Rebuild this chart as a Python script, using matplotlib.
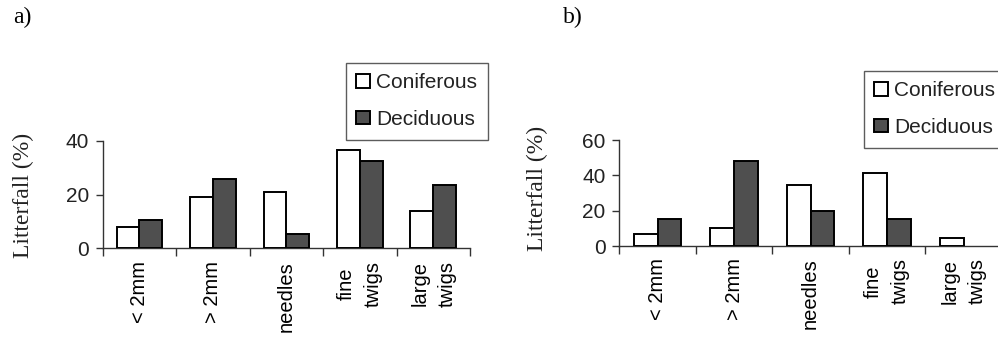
import matplotlib
matplotlib.use("Agg")
import matplotlib.pyplot as plt
import numpy as np

categories = ["< 2mm", "> 2mm", "needles", "fine\ntwigs", "large\ntwigs"]
series_names = ["Coniferous", "Deciduous"]
a_coniferous = [7.9, 19.2, 20.9, 36.5, 13.9]
a_deciduous = [10.4, 25.6, 5.3, 32.5, 23.7]
b_coniferous = [6.6, 10.4, 34.5, 41.1, 4.3]
b_deciduous = [15.1, 48.3, 19.8, 15.1, 0.0]
a_yticks = [0, 20, 40]
b_yticks = [0, 20, 40, 60]

W, H = 998, 346
fig = plt.figure(figsize=(W / 100, H / 100), dpi=100)
fig.patch.set_facecolor("white")

SANS = "Liberation Sans"
SERIF = "Liberation Serif"
DARK = "#4f4f4f"


def px_rect(x0, x1, y_top, y_bot):
    return [x0 / W, 1 - y_bot / H, (x1 - x0) / W, (y_bot - y_top) / H]


def draw(ax, conif, decid, yticks):
    n = len(categories)
    centers = np.arange(n) + 0.5
    w = 0.31
    b1 = ax.bar(centers - w / 2, conif, w, color="white", edgecolor="black",
                linewidth=1.4, label=series_names[0], zorder=3)
    b2 = ax.bar(centers + w / 2, decid, w, color=DARK, edgecolor="black",
                linewidth=1.4, label=series_names[1], zorder=3)
    for bars in (b1, b2):
        for p in bars.patches:
            if p.get_height() == 0:
                p.set_visible(False)
    ax.set_xlim(0, n)
    ax.set_ylim(0, yticks[-1])
    ax.set_yticks(yticks)
    ax.set_xticks(np.arange(n + 1))
    ax.set_xticklabels([])
    ax.set_xticks(centers, minor=True)
    ax.set_xticklabels(categories, minor=True, rotation=90, va="top",
                       ha="center", multialignment="center",
                       fontfamily=SANS, fontsize=14.5, linespacing=1.55)
    ax.tick_params(axis="x", which="minor", length=0, pad=9)
    ax.tick_params(axis="x", which="major", length=6, width=1, color="#333333")
    ax.tick_params(axis="y", length=5, width=1, color="#333333", pad=5,
                   labelsize=15)
    for lab in ax.get_yticklabels():
        lab.set_fontfamily(SANS)
        lab.set_color("#222222")
    for s in ["top", "right"]:
        ax.spines[s].set_visible(False)
    for s in ["left", "bottom"]:
        ax.spines[s].set_linewidth(1.0)
        ax.spines[s].set_color("#333333")
    ax.set_facecolor("none")
    return b1, b2


ax_a = fig.add_axes(px_rect(102.7, 470, 140.7, 248.3))
ha = draw(ax_a, a_coniferous, a_deciduous, a_yticks)
ax_b = fig.add_axes(px_rect(619.3, 1001.8, 140, 246))
hb = draw(ax_b, b_coniferous, b_deciduous, b_yticks)

leg_kw = dict(loc="upper left", borderaxespad=0, frameon=True, fancybox=False,
              edgecolor="#333333", handlelength=0.65, handleheight=0.6,
              handletextpad=0.3, labelspacing=0.85, borderpad=0.5,
              prop={"family": SANS, "size": 15})
la = fig.legend(ha, series_names, bbox_to_anchor=(346 / W, 1 - 63 / H), **leg_kw)
lb = fig.legend(hb, series_names, bbox_to_anchor=(864 / W, 1 - 71 / H), **leg_kw)
for lg in (la, lb):
    lg.get_frame().set_linewidth(1.0)
    for t in lg.get_texts():
        t.set_color("#222222")

fig.text(13 / W, 1 - 17 / H, "a)", family=SERIF, fontsize=17, ha="left", va="center")
fig.text(563 / W, 1 - 17 / H, "b)", family=SERIF, fontsize=17, ha="left", va="center")
fig.text(23 / W, 1 - 195 / H, "Litterfall (%)", family=SERIF, fontsize=17,
         rotation=90, ha="center", va="center", color="#222222")
fig.text(537 / W, 1 - 188 / H, "Litterfall (%)", family=SERIF, fontsize=17,
         rotation=90, ha="center", va="center", color="#222222")

fig.savefig("out.png", dpi=100, facecolor=fig.get_facecolor())
